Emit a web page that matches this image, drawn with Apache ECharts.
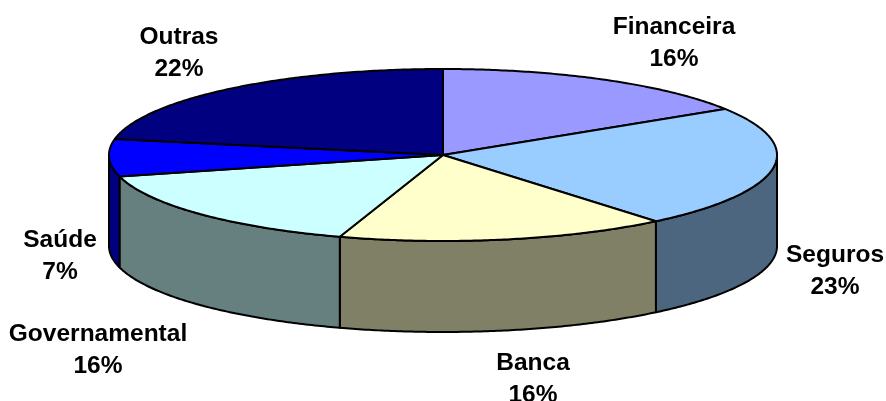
<!DOCTYPE html>
<html><head><meta charset="utf-8">
<script src="https://cdn.jsdelivr.net/npm/echarts@6/dist/echarts.min.js"></script>
<style>html,body{margin:0;padding:0;background:#fff}#c{width:886px;height:401px}</style>
</head><body><div id="c"></div>
<script>
const categories = ['Financeira', 'Seguros', 'Banca', 'Governamental', 'Saúde', 'Outras'];
const values = [16, 23, 16, 16, 7, 22];
const topColors = ['#9999FF', '#99CCFF', '#FFFFCC', '#CCFFFF', '#0000FF', '#000080'];
const sideColors = ['#4D4D80', '#4C6680', '#808066', '#668080', '#000080', '#000040'];

// layout (pixels)
const geo = { cx: 443, cy: 155, rx: 334, ry: 86, depth: 91 };
const labelPos = [[674, 43], [835, 271], [533, 379], [98, 350], [60, 256], [179, 53]];

const total = values.reduce((a, b) => a + b, 0);
const starts = [];
let acc = 0;
values.forEach(v => { starts.push(acc); acc += v; });

function pt(theta, dy) {
  return [geo.cx + geo.rx * Math.sin(theta), geo.cy - geo.ry * Math.cos(theta) + (dy || 0)];
}
function arc(a, b, dy) {
  const n = Math.max(4, Math.ceil(Math.abs(b - a) / 0.01));
  const pts = [];
  for (let k = 0; k <= n; k++) pts.push(pt(a + (b - a) * k / n, dy));
  return pts;
}

const chart = echarts.init(document.getElementById('c'), null, { renderer: 'canvas' });
const font = 'bold 24.5px "Liberation Sans", Arial, sans-serif';

chart.setOption({
  animation: false,
  backgroundColor: '#fff',
  series: [{
    type: 'custom',
    coordinateSystem: 'none',
    silent: true,
    data: values.map((v, i) => ({ value: [i, v], name: categories[i] })),
    renderItem: function (params, api) {
      const i = params.dataIndex;
      const v = api.value(1);
      const a = starts[i] / total * Math.PI * 2;
      const b = (starts[i] + v) / total * Math.PI * 2;
      const children = [];
      const wa = Math.max(a, Math.PI / 2), wb = Math.min(b, Math.PI * 1.5);
      if (wb > wa) {
        const pts = arc(wa, wb, 0).concat(arc(wb, wa, geo.depth));
        children.push({
          type: 'polygon',
          shape: { points: pts },
          style: { fill: sideColors[i], stroke: '#000', lineWidth: 2, lineJoin: 'round' }
        });
      }
      const topPts = [[geo.cx, geo.cy]].concat(arc(a, b, 0));
      children.push({
        type: 'polygon',
        shape: { points: topPts },
        style: { fill: topColors[i], stroke: '#000', lineWidth: 2, lineJoin: 'round' }
      });
      children.push({
        type: 'text',
        style: {
          text: categories[i] + '\n' + v + '%',
          x: labelPos[i][0], y: labelPos[i][1],
          font: font, fill: '#000',
          align: 'center', verticalAlign: 'middle', lineHeight: 32
        }
      });
      return { type: 'group', children: children };
    }
  }]
});
</script>
</body></html>
